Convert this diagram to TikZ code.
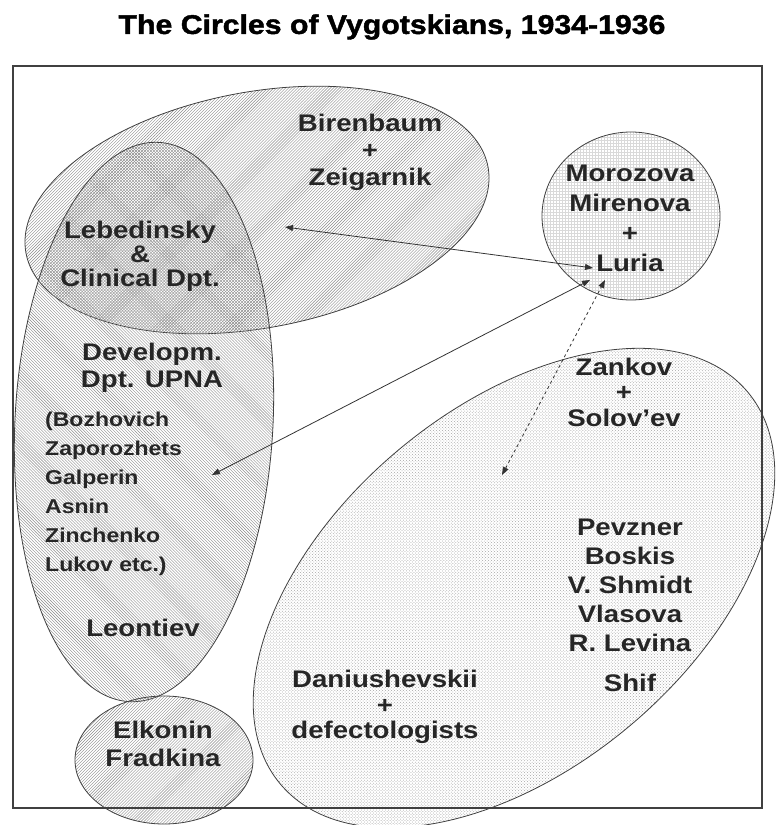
\documentclass[tikz,border=0pt]{standalone}
\usepackage{fontspec}
\setmainfont{Liberation Sans}
\newfontfamily\widesans{Liberation Sans}[FakeStretch=1.15]
\newfontfamily\headsans{Liberation Sans}[FakeStretch=1.12,FakeBold=1.6]
\usetikzlibrary{positioning,shapes.geometric,patterns,arrows.meta}

\begin{document}
\begin{tikzpicture}[
    x=1bp, y=1bp,
    blob/.style={ellipse, draw=black!75, line width=0.8bp, inner sep=0pt},
    lbl/.style={align=center, inner sep=0pt, text=black!85,
        font=\widesans\bfseries\fontsize{24bp}{27bp}\selectfont},
    link/.style={<->, >={Triangle[length=8bp,width=6bp]}, line width=0.8bp, draw=black!80}
]
\useasboundingbox (0,0) rectangle (781,-825);

\node[blob, pattern=north east lines, pattern color=black!45,
    minimum width=470bp, minimum height=236bp, rotate=10.6] (zeigC) at (257,-210) {};
\node[blob, pattern=north west lines, pattern color=black!45,
    minimum width=258bp, minimum height=560bp, rotate=-3] (devC) at (144,-422) {};
\node[blob, pattern=north east lines, pattern color=black!45,
    minimum width=178bp, minimum height=128bp] (elkC) at (164,-760) {};
\node[blob, pattern=grid, pattern color=black!15,
    minimum width=178bp, minimum height=168bp] (luriaC) at (631,-216) {};
\node[blob, pattern=crosshatch dots, pattern color=black!35,
    minimum width=610bp, minimum height=360bp, rotate=40] (defC) at (514,-588) {};

\node[font=\headsans\bfseries\fontsize{27bp}{30bp}\selectfont] (title) at (392,-27)
    {The Circles of Vygotskians, 1934-1936};

\node[lbl] (biren) at (370,-152) {Birenbaum\\+\\Zeigarnik};
\node[lbl, font=\widesans\bfseries\fontsize{24bp}{24bp}\selectfont] (lebed) at (140,-256) {Lebedinsky\\\&\\Clinical Dpt.};
\node[lbl, font=\widesans\bfseries\fontsize{24bp}{30bp}\selectfont] (moroz) at (630,-218) {Morozova\\Mirenova\\+\\Luria};
\node[lbl] (upna) at (152,-368) {Developm.\\Dpt. UPNA};
\node[lbl, align=left, anchor=west, font=\widesans\bfseries\fontsize{20bp}{29bp}\selectfont] (staff) at (45,-494)
    {(Bozhovich\\Zaporozhets\\Galperin\\Asnin\\Zinchenko\\Lukov etc.)};
\node[lbl] (leont) at (143,-628) {Leontiev};
\node[lbl, font=\widesans\bfseries\fontsize{24bp}{28bp}\selectfont] (elk) at (163,-744) {Elkonin\\Fradkina};
\node[lbl, font=\widesans\bfseries\fontsize{24bp}{25.5bp}\selectfont] (zank) at (624,-392) {Zankov\\+\\Solov’ev};
\node[lbl, font=\widesans\bfseries\fontsize{24bp}{29bp}\selectfont] (pevz) at (630,-585) {Pevzner\\Boskis\\V. Shmidt\\Vlasova\\R. Levina};
\node[lbl, below=22bp of pevz] (shif) {Shif};
\node[lbl, font=\widesans\bfseries\fontsize{24bp}{25.5bp}\selectfont] (danius) at (385,-707) {Daniushevskii\\+\\defectologists};

\coordinate (zeigEnd) at (285,-227);
\coordinate (devEnd) at (212,-475);
\coordinate (defEnd) at (502,-475);
\coordinate (luriaA) at (593,-268);
\coordinate (luriaB) at (590,-280);
\coordinate (luriaC2) at (605,-280);

\draw[link] (zeigEnd) -- (luriaA);
\draw[link] (devEnd) -- (luriaB);
\draw[link, dashed] (defEnd) -- (luriaC2);

\draw[black!75, line width=1.2bp] (13,-66) rectangle (762,-808);
\end{tikzpicture}
\end{document}
